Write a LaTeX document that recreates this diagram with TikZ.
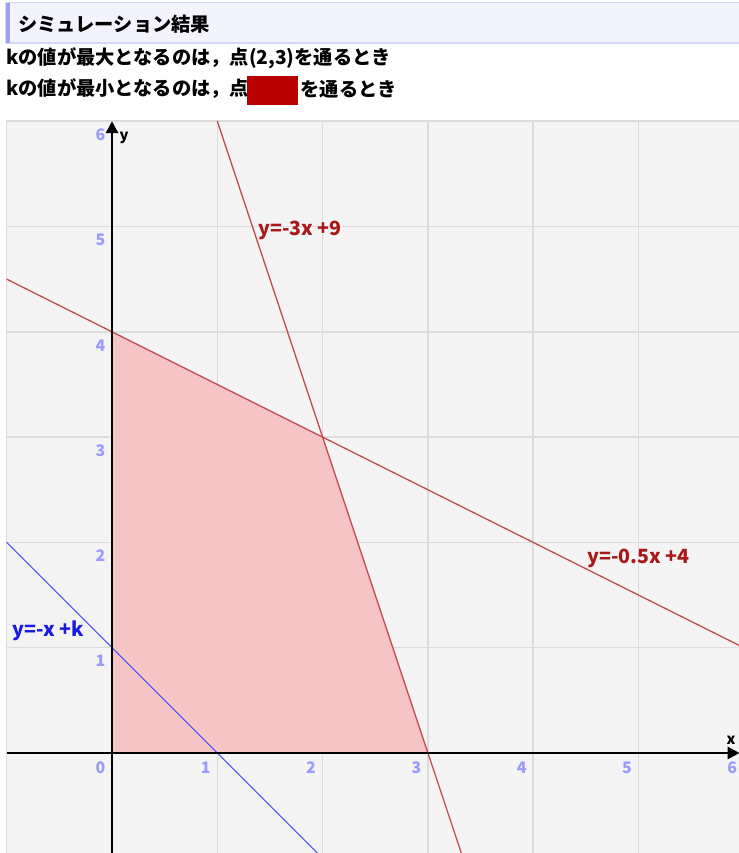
\documentclass[tikz,border=0pt]{standalone}
\usepackage{fontspec}
\setmainfont{Noto Sans}
\newfontfamily\jpfont{Noto Sans CJK JP}
\usetikzlibrary{arrows.meta,positioning}
\definecolor{panelbg}{HTML}{F4F4F4}
\definecolor{gridgray}{HTML}{DCDCDC}
\definecolor{headbg}{HTML}{F3F3FD}
\definecolor{headedge}{HTML}{D6D6F6}
\definecolor{headbar}{HTML}{9E9EF6}
\definecolor{tickblue}{HTML}{9A9AFF}
\definecolor{boundred}{HTML}{C05050}
\definecolor{labelred}{HTML}{A81818}
\definecolor{regionred}{HTML}{F5C4C4}
\definecolor{kblue}{HTML}{5050FF}
\definecolor{klabel}{HTML}{1A1AE6}
\definecolor{hidered}{HTML}{B80000}
\tikzset{
  >={Triangle[length=6.5pt,width=6.5pt]},
  gridline/.style={draw=gridgray, line width=0.8pt},
  axisline/.style={->, line width=1.5pt},
  tick/.style={text=tickblue, font=\fontsize{8.6}{10}\selectfont\jpfont\bfseries,
               inner sep=0pt, anchor=north east},
  axname/.style={font=\fontsize{8}{10}\selectfont\jpfont\bfseries, inner sep=0pt},
  eqlabel/.style={font=\fontsize{10.6}{12}\selectfont\jpfont\bfseries, inner sep=0pt,
                  anchor=base west},
  jptext/.style={font=\fontsize{10.4}{12}\selectfont\jpfont\bfseries,
                 inner sep=0pt, anchor=west},
  bound/.style={draw=boundred, line width=0.7pt},
  hidebox/.style={fill=hidered, inner sep=0pt, minimum width=0.968cm,
                  minimum height=0.552cm},
}

\begin{document}
\begin{tikzpicture}[x=2cm,y=2cm]
  \useasboundingbox (-1.0636,-0.9497) rectangle (5.9544,7.1510);
  % header
  \draw[headedge, fill=headbg, line width=0.6pt] (-1.007,6.743) rectangle (6.0,7.123);
  \fill[headbar] (-1.007,6.743) rectangle (-0.969,7.123);
  \node[jptext] (title) at (-0.893,6.92) {シミュレーション結果};
  \node[jptext] (maxline) at (-1.006,6.60) {kの値が最大となるのは，点(2,3)を通るとき};
  \node[jptext] (minlead) at (-1.006,6.306) {kの値が最小となるのは，点};
  \node[hidebox, right=-1.5pt of minlead, yshift=-0.9pt] (answer) {};
  \node[jptext, right=1pt of answer, yshift=0.9pt] (mintail) {を通るとき};
  % plot area
  \fill[panelbg] (-1,-0.95) rectangle (5.96,6);
  \foreach \gx in {0,...,5}
    \draw[gridline] (\gx,-0.95) -- (\gx,6);
  \foreach \gy in {0,...,5}
    \draw[gridline] (-1,\gy) -- (5.96,\gy);
  \draw[gridline] (-1,-0.95) -- (-1,6) -- (5.96,6);
  \coordinate (O) at (0,0);
  \coordinate (A) at (0,4);
  \coordinate (B) at (2,3);
  \coordinate (C) at (3,0);
  \fill[regionred] (O) -- (A) -- (B) -- (C) -- cycle;
  \draw[bound] (1,6) -- (3.317,-0.95);
  \draw[bound] (-1,4.5) -- (5.96,1.02);
  \draw[kblue, line width=0.6pt] (-1,2) -- (1.95,-0.95);
  \draw[axisline] (-1,0) -- (5.96,0);
  \draw[axisline] (0,-0.95) -- (0,6);
  \node[axname] (xname) at (5.878,0.123) {x};
  \node[axname] (yname) at (0.114,5.84) {y};
  \foreach \k in {0,...,6}
    \node[tick] (xt\k) at (\k-0.06,-0.08) {\k};
  \foreach \k in {1,...,6}
    \node[tick] (yt\k) at (-0.06,\k-0.07) {\k};
  \node[eqlabel, text=labelred] (eqsteep) at (1.387,4.91) {y=-3x +9};
  \node[eqlabel, text=labelred] (eqflat) at (4.511,1.804) {y=-0.5x +4};
  \node[eqlabel, text=klabel] (eqk) at (-0.95,1.102) {y=-x +k};
\end{tikzpicture}
\end{document}
